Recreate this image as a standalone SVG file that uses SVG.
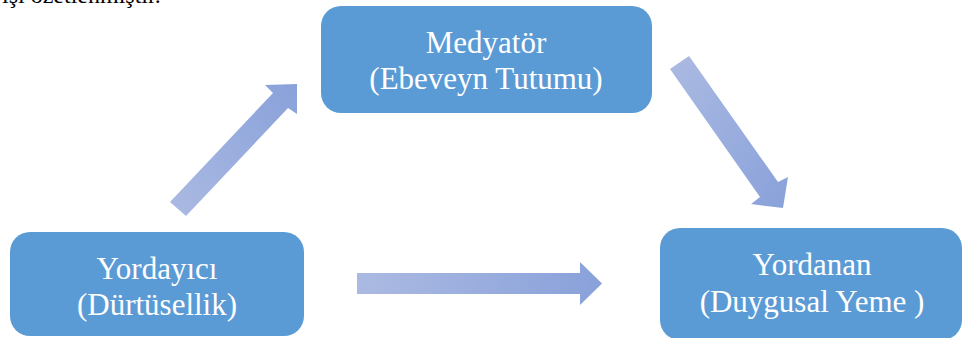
<svg xmlns="http://www.w3.org/2000/svg" width="963" height="338" viewBox="0 0 963 338">
<style>
.box{fill:#5B9BD5;}
.lbl{font-family:"Liberation Serif","Times New Roman",serif;font-size:31px;fill:#FFFFFF;text-anchor:middle;}
.top{font-family:"Liberation Serif","Times New Roman",serif;font-size:24px;fill:#000000;}
</style>
<defs>
<linearGradient id="gUp" x1="0" y1="1" x2="1" y2="0"><stop offset="0" stop-color="#ABBAE2"/><stop offset="1" stop-color="#89A1DA"/></linearGradient>
<linearGradient id="gDown" x1="0" y1="0" x2="1" y2="1"><stop offset="0" stop-color="#ABBAE2"/><stop offset="1" stop-color="#89A1DA"/></linearGradient>
<linearGradient id="gRight" x1="0" y1="0" x2="1" y2="0"><stop offset="0" stop-color="#ABBAE2"/><stop offset="1" stop-color="#89A1DA"/></linearGradient>
</defs>
<rect width="963" height="338" fill="#FFFFFF"/>
<text class="top" x="2" y="3">ışı özetlenmiştir.</text>
<g id="connectors">
<polygon fill="url(#gUp)" points="170,202 273,93 265,85 297,84 297,114 288,108 186,216"/>
<polygon fill="url(#gDown)" points="670,69 689,56 778,182 788,177 783,208 751,204 760,197"/>
<polygon fill="url(#gRight)" points="357,273 580,273 580,262 602,283.5 580,305 580,294 357,294"/>
</g>
<g id="node-mediator">
<rect class="box" x="321" y="6" width="331" height="107" rx="20" ry="20"/>
<text class="lbl" x="486" y="53">Medyatör</text>
<text class="lbl" x="486" y="89">(Ebeveyn Tutumu)</text>
</g>
<g id="node-predictor">
<rect class="box" x="10" y="232" width="294" height="104" rx="20" ry="20"/>
<text class="lbl" x="157" y="279">Yordayıcı</text>
<text class="lbl" x="157" y="315">(Dürtüsellik)</text>
</g>
<g id="node-outcome">
<rect class="box" x="660" y="228" width="302" height="112" rx="20" ry="20"/>
<text class="lbl" x="812" y="275">Yordanan</text>
<text class="lbl" x="812" y="312">(Duygusal Yeme )</text>
</g>
</svg>
